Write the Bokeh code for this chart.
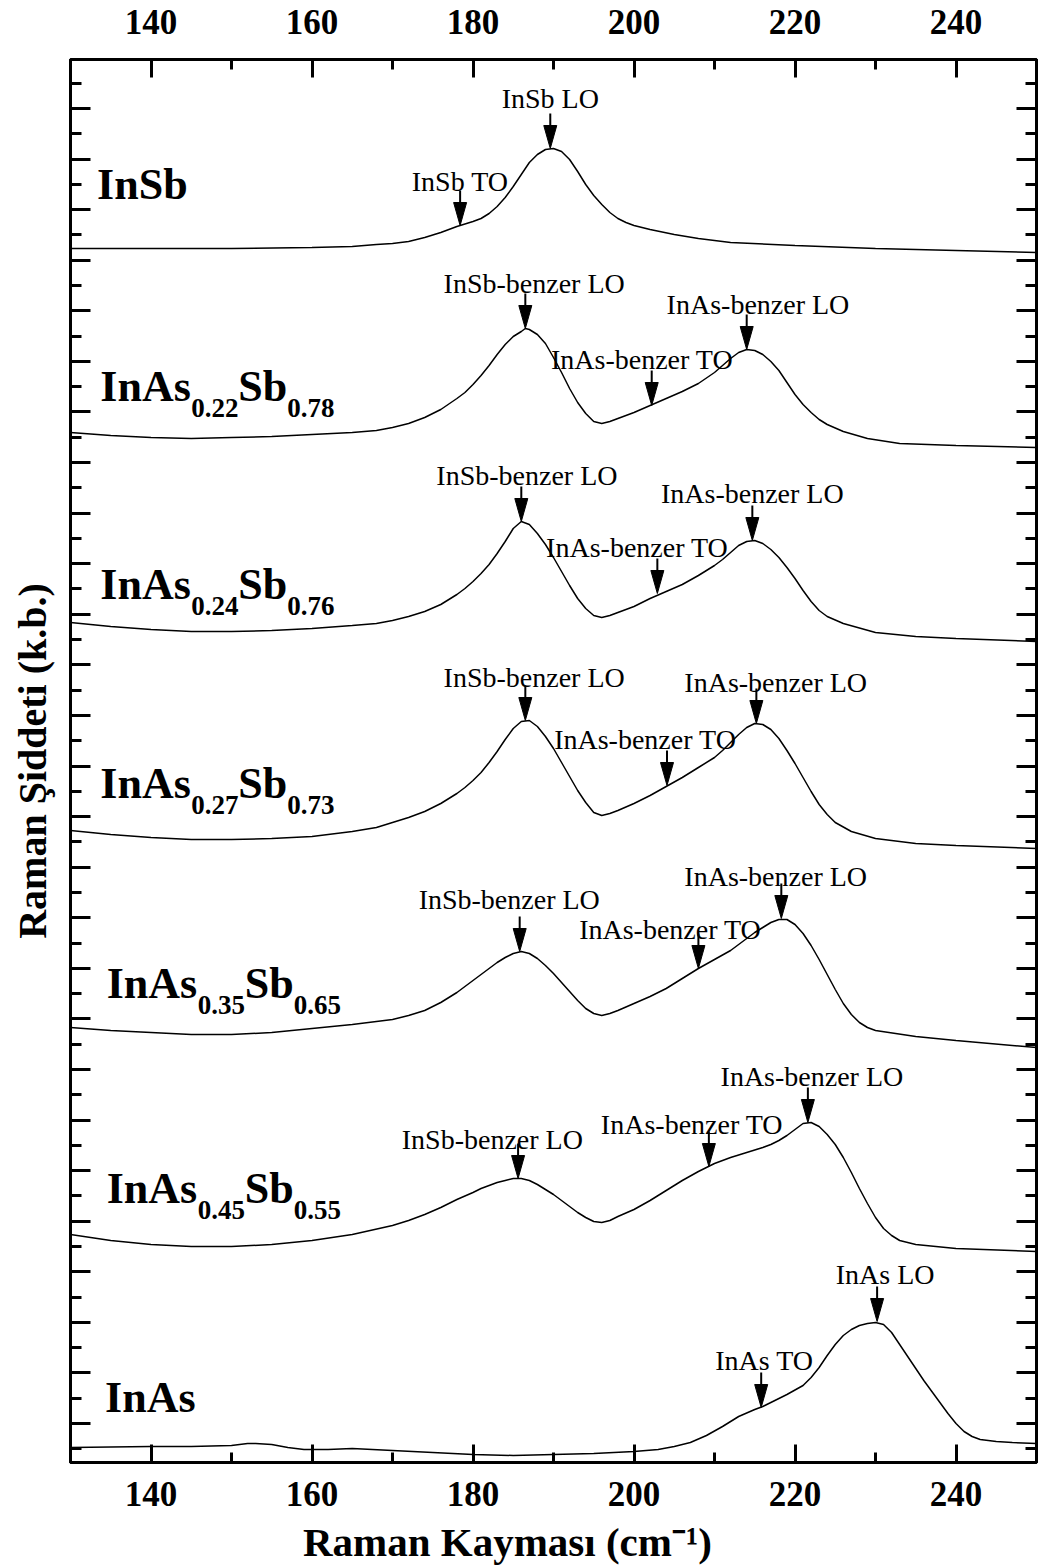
from bokeh.plotting import figure
from bokeh.models import (Range1d, LinearAxis, FixedTicker, Label, CustomLabelingPolicy,
                          CustomJSTickFormatter)
from bokeh.embed import file_html
from bokeh.resources import INLINE

# ---------------- data: Raman shift (cm^-1) and stacked intensities (a.u.) ----------------
x_insb = [130, 140, 150, 160, 165, 168, 170, 172, 174, 176, 178, 180, 181, 182, 183, 184, 185, 186, 187, 188,
          189, 190, 191, 192, 193, 194, 195, 196, 197, 198, 199, 200, 202, 205, 208, 212, 220, 230, 240, 250]
y_insb = [1214, 1214, 1214, 1215, 1216, 1218, 1219, 1221, 1225, 1230, 1236, 1241, 1244, 1249, 1256, 1265,
          1276, 1288, 1300, 1308, 1313, 1314, 1311, 1303, 1291, 1278, 1267, 1258, 1250, 1244, 1240, 1237,
          1233, 1228, 1224, 1220, 1217, 1214, 1212, 1210]

x_s22 = [130, 135, 140, 145, 150, 155, 160, 165, 168, 170, 172, 174, 176, 178, 179, 180, 181, 182, 183, 184,
         185, 186, 186.5, 187, 188, 189, 190, 191, 192, 193, 194, 195, 196, 197, 198, 200, 202, 204, 206, 208,
         210, 211, 212, 213, 214, 215, 216, 217, 218, 219, 220, 221, 222, 223, 224, 226, 229, 233, 240, 250]
y_s22 = [1030, 1027, 1025, 1024, 1025, 1026, 1028, 1030, 1032, 1035, 1039, 1045, 1053, 1064, 1070, 1078,
         1087, 1097, 1108, 1118, 1126, 1131, 1134, 1133, 1128, 1119, 1105, 1090, 1074, 1060, 1049, 1041,
         1039, 1041, 1044, 1050, 1057, 1064, 1071, 1079, 1090, 1097, 1104, 1110, 1113, 1112, 1108, 1101,
         1092, 1080, 1068, 1058, 1050, 1043, 1038, 1031, 1024, 1019, 1017, 1015]

x_s24 = [130, 135, 140, 145, 150, 155, 160, 165, 168, 170, 172, 174, 176, 178, 179, 180, 181, 182, 183, 184,
         185, 186, 187, 188, 189, 190, 191, 192, 193, 194, 195, 196, 197, 198, 200, 202, 204, 206, 208, 210,
         211, 212, 213, 214, 215, 216, 217, 218, 219, 220, 221, 222, 223, 224, 226, 230, 235, 240, 250]
y_s24 = [840, 836, 833, 831, 831, 832, 834, 837, 839, 842, 846, 851, 858, 868, 874, 881, 889, 898, 909, 921,
         934, 941, 938, 929, 918, 905, 891, 877, 864, 854, 847, 845, 847, 850, 856, 864, 871, 878, 887, 897,
         903, 910, 917, 921, 922, 919, 913, 905, 895, 884, 872, 861, 852, 846, 839, 830, 826, 824, 821]

x_s27 = [130, 135, 140, 145, 150, 155, 160, 165, 168, 170, 172, 174, 176, 178, 179, 180, 181, 182, 183, 184,
         185, 186, 187, 188, 189, 190, 191, 192, 193, 194, 195, 196, 197, 198, 200, 202, 204, 206, 208, 210,
         211, 212, 213, 214, 215, 216, 217, 218, 219, 220, 221, 222, 223, 224, 225, 227, 230, 235, 240, 250]
y_s27 = [632, 628, 625, 623, 623, 624, 626, 631, 635, 640, 645, 651, 659, 669, 675, 682, 690, 700, 711, 723,
         734, 741, 742, 736, 726, 714, 700, 686, 672, 660, 650, 647, 649, 652, 659, 667, 676, 685, 695, 705,
         712, 720, 728, 735, 739, 738, 733, 724, 712, 699, 685, 671, 658, 648, 640, 631, 624, 619, 617, 614]

x_s35 = [130, 135, 140, 145, 150, 155, 160, 165, 170, 172, 174, 176, 178, 180, 181, 182, 183, 184, 185, 186,
         187, 188, 189, 190, 191, 192, 193, 194, 195, 196, 197, 198, 200, 202, 204, 206, 208, 210, 212, 213,
         214, 215, 216, 217, 218, 219, 220, 221, 222, 223, 224, 225, 226, 227, 228, 229, 230, 235, 240, 250]
y_s35 = [435, 432, 430, 428, 428, 430, 434, 438, 443, 447, 452, 460, 470, 482, 488, 494, 500, 505, 509, 511,
         509, 504, 497, 489, 480, 471, 462, 454, 449, 447, 449, 452, 459, 466, 474, 484, 494, 503, 512, 518,
         524, 530, 535, 540, 543, 543, 538, 529, 517, 503, 488, 473, 459, 448, 440, 435, 432, 426, 422, 415]

x_s45 = [130, 135, 140, 145, 150, 155, 160, 165, 170, 172, 174, 176, 178, 180, 181, 182, 183, 184, 185, 186,
         187, 188, 189, 190, 191, 192, 193, 194, 195, 196, 197, 198, 200, 202, 204, 206, 208, 209, 210, 212,
         214, 216, 217, 218, 219, 220, 221, 222, 223, 224, 225, 226, 227, 228, 229, 230, 231, 232, 233, 235,
         240, 250]
y_s45 = [228, 222, 218, 216, 216, 218, 222, 228, 237, 242, 248, 255, 263, 270, 274, 277, 280, 282, 284, 284,
         282, 278, 273, 268, 262, 256, 250, 245, 241, 240, 242, 246, 253, 262, 272, 282, 291, 295, 299, 305,
         310, 315, 318, 322, 327, 333, 339, 340, 336, 328, 318, 305, 290, 274, 259, 245, 234, 227, 222, 218,
         214, 211]

x_inas = [130, 140, 145, 150, 152, 153, 155, 157, 159, 162, 165, 170, 175, 180, 185, 190, 195, 200, 203, 205,
          207, 209, 211, 213, 215, 216, 217, 219, 221, 222, 223, 224, 225, 226, 227, 228, 229, 230, 231, 232,
          233, 234, 235, 236, 237, 238, 239, 240, 241, 242, 243, 245, 247, 250]
y_inas = [15, 16, 16, 17, 19, 19, 18, 15, 13, 13, 14, 12, 10, 8, 7, 8, 9, 11, 13, 16, 20, 27, 36, 46, 53, 56,
          60, 68, 77, 85, 95, 107, 118, 127, 133, 137, 139, 140, 138, 130, 118, 106, 94, 82, 71, 60, 49, 39, 31,
          26, 23, 21, 20, 19]

spectra = [(x_insb, y_insb), (x_s22, y_s22), (x_s24, y_s24), (x_s27, y_s27),
           (x_s35, y_s35), (x_s45, y_s45), (x_inas, y_inas)]

# peak annotations: arrow x (cm^-1), arrow tip (a.u.), label text, label centre x, label baseline
mode_x = [189.6, 178.4, 186.5, 214.0, 202.2, 186.0, 214.7, 202.9, 186.5, 215.2, 204.1,
          185.8, 218.3, 208.0, 185.6, 221.6, 209.3, 230.2, 215.8]
mode_tip = [1314, 1237, 1134, 1113, 1057, 941, 922, 869, 742, 739, 677,
            511, 544, 494, 284, 340, 296, 141, 55]
mode_text = ["InSb LO", "InSb TO",
             "InSb-benzer LO", "InAs-benzer LO", "InAs-benzer TO",
             "InSb-benzer LO", "InAs-benzer LO", "InAs-benzer TO",
             "InSb-benzer LO", "InAs-benzer LO", "InAs-benzer TO",
             "InSb-benzer LO", "InAs-benzer LO", "InAs-benzer TO",
             "InSb-benzer LO", "InAs-benzer LO", "InAs-benzer TO",
             "InAs LO", "InAs TO"]
mode_lx = [189.6, 178.4, 187.6, 215.4, 201.0, 186.7, 214.7, 200.4, 187.6, 217.6, 201.4,
           184.5, 217.6, 204.5, 182.4, 222.1, 207.2, 231.2, 216.2]
mode_ly = [1354, 1271, 1169, 1148, 1093, 977, 959, 905, 775, 770, 713,
           553, 576, 523, 313, 376, 328, 178, 92]

# sample names: (main, subscript, main, subscript), anchor x, baseline
sample_parts = [("InSb", "", "", ""),
                ("InAs", "0.22", "Sb", "0.78"),
                ("InAs", "0.24", "Sb", "0.76"),
                ("InAs", "0.27", "Sb", "0.73"),
                ("InAs", "0.35", "Sb", "0.65"),
                ("InAs", "0.45", "Sb", "0.55"),
                ("InAs", "", "", "")]
sample_x = [133.3, 133.7, 133.7, 133.7, 134.5, 134.5, 134.3]
sample_y = [1262, 1060, 862, 663, 463, 258, 49]

x_major = [140, 160, 180, 200, 220, 240]
x_minor = [130, 150, 170, 190, 210, 230, 250]

SERIF = "Liberation Serif"

# ---------------- figure ----------------
p = figure(frame_width=966, frame_height=1403, min_border_left=70, min_border_right=3,
           min_border_top=59, min_border_bottom=106,
           x_range=Range1d(130, 250), y_range=Range1d(0, 1403),
           output_backend="svg", toolbar_location=None,
           background_fill_color="white", border_fill_color="white")
p.xgrid.visible = False
p.ygrid.visible = False
p.outline_line_color = "black"
p.outline_line_width = 3

# unlabelled intensity ticks
n_int = 26
y0, y1 = 39.0, 1354.0
step = (y1 - y0) / n_int
y_major = [y0 + i * step for i in range(n_int + 1)]
y_minor = [y0 - step / 2] + [y0 + (i + 0.5) * step for i in range(n_int + 1)]

xt = FixedTicker(ticks=x_major, minor_ticks=x_minor)
yt = FixedTicker(ticks=y_major, minor_ticks=y_minor)

no_labels = CustomLabelingPolicy(code="""
const n = indices.size
for (let i = 0; i < n; i++) { indices.unset(i) }
return indices
""")
blank_fmt = CustomJSTickFormatter(code="return ''")


def style_x(ax, standoff):
    ax.ticker = xt
    ax.axis_line_width = 3
    ax.major_tick_line_width = 3
    ax.minor_tick_line_width = 3
    ax.major_tick_in = 18
    ax.major_tick_out = 0
    ax.minor_tick_in = 10
    ax.minor_tick_out = 0
    ax.major_label_text_font = SERIF
    ax.major_label_text_font_style = "bold"
    ax.major_label_text_font_size = "35px"
    ax.major_label_text_color = "black"
    ax.major_label_standoff = standoff


def style_y(ax):
    ax.ticker = yt
    ax.formatter = blank_fmt
    ax.axis_line_width = 3
    ax.major_tick_line_width = 3
    ax.minor_tick_line_width = 3
    ax.major_tick_in = 20
    ax.major_tick_out = 0
    ax.minor_tick_in = 11
    ax.minor_tick_out = 0
    ax.major_label_policy = no_labels
    ax.major_label_text_font_size = "10px"
    ax.major_label_standoff = 0


bottom = p.xaxis[0]
style_x(bottom, 19)
bottom.axis_label = "Raman Kayması (cm⁻¹)" + "\u00a0" * 9
bottom.axis_label_text_font = SERIF
bottom.axis_label_text_font_style = "bold"
bottom.axis_label_text_font_size = "41px"
bottom.axis_label_text_color = "black"
bottom.axis_label_standoff = 10

left = p.yaxis[0]
style_y(left)
left.axis_label = "Raman Şiddeti (k.b.)"
left.axis_label_text_font = SERIF
left.axis_label_text_font_style = "bold"
left.axis_label_text_font_size = "40px"
left.axis_label_text_color = "black"
left.axis_label_standoff = 16

top = LinearAxis()
style_x(top, 26)
p.add_layout(top, "above")
right = LinearAxis()
style_y(right)
p.add_layout(right, "right")

# spectra
for xs, ys in spectra:
    p.line(xs, ys, line_color="black", line_width=1.5)

# arrows
px_per_cm = 966 / 120.0
head_len = 23
head_hw = 6.5 / px_per_cm
shaft_len = 35
hx, hy = [], []
for mx, mt in zip(mode_x, mode_tip):
    hx.append([mx, mx - head_hw, mx + head_hw])
    hy.append([mt, mt + head_len, mt + head_len])
p.patches(hx, hy, fill_color="black", line_color="black", line_width=1)
p.segment(x0=mode_x, y0=[t + head_len - 2 for t in mode_tip], x1=mode_x,
          y1=[t + shaft_len for t in mode_tip], line_color="black", line_width=2)

LBL = 28
for t, lx, ly in zip(mode_text, mode_lx, mode_ly):
    p.add_layout(Label(x=lx, y=ly, y_offset=round(0.37 * LBL), text=t, text_font=SERIF,
                       text_font_size=f"{LBL}px", text_align="center", text_baseline="alphabetic",
                       text_color="black"))

# sample names
BIG, SUB = 44, 27
offsets = [0, 91, 138, 187]
for parts, sx, sy in zip(sample_parts, sample_x, sample_y):
    for k, part in enumerate(parts):
        if not part:
            continue
        sub = k % 2 == 1
        size = SUB if sub else BIG
        dy = (-15 if sub else 0) + round(0.37 * size)
        p.add_layout(Label(x=sx, y=sy, x_offset=offsets[k], y_offset=dy, text=part,
                           text_font=SERIF, text_font_style="bold", text_font_size=f"{size}px",
                           text_align="left", text_baseline="alphabetic", text_color="black"))

open("out.html", "w").write(file_html(p, INLINE))
